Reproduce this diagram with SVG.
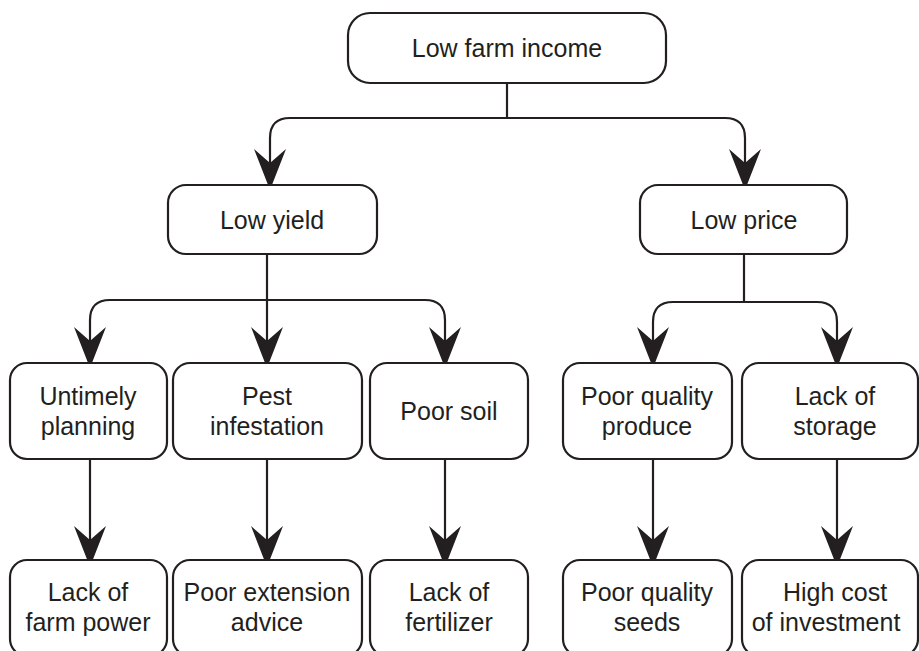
<svg xmlns="http://www.w3.org/2000/svg" width="919" height="651" viewBox="0 0 919 651">
  <style>
    .box { fill: #ffffff; stroke: #231f20; stroke-width: 2.2; }
    .lbl { font-family: "Liberation Sans", Arial, sans-serif; font-size: 25px; fill: #231f20; text-anchor: middle; }
    .link { fill: none; stroke: #231f20; stroke-width: 2.2; }
    .arrow { marker-end: url(#head); }
  </style>
  <defs>
    <marker id="head" markerUnits="userSpaceOnUse" markerWidth="44" markerHeight="36" refX="14" refY="17" orient="auto" overflow="visible">
      <path d="M0,1 L41,17 L0,33 L14,17 Z" fill="#231f20"/>
    </marker>
  </defs>
  <rect width="919" height="651" fill="#ffffff"/>

  <!-- connectors -->
  <g id="connectors">
    <path class="link" d="M507,83 V118"/>
    <path class="link arrow" d="M507,118 H290 Q270,118 270,138 V163"/>
    <path class="link arrow" d="M507,118 H725 Q745,118 745,138 V163"/>

    <path class="link" d="M267,254 V300"/>
    <path class="link arrow" d="M267,300 H110 Q90,300 90,320 V341"/>
    <path class="link arrow" d="M267,300 V341"/>
    <path class="link arrow" d="M267,300 H425 Q445,300 445,320 V341"/>

    <path class="link" d="M744,254 V302"/>
    <path class="link arrow" d="M744,302 H673 Q653,302 653,322 V341"/>
    <path class="link arrow" d="M744,302 H817 Q837,302 837,322 V341"/>

    <path class="link arrow" d="M90,459 V540"/>
    <path class="link arrow" d="M267,459 V540"/>
    <path class="link arrow" d="M445,459 V540"/>
    <path class="link arrow" d="M653,459 V540"/>
    <path class="link arrow" d="M837,459 V540"/>
  </g>

  <!-- level 0 -->
  <g id="low-farm-income">
    <rect class="box" x="348" y="13" width="318" height="70" rx="22"/>
    <text class="lbl" x="507" y="57">Low farm income</text>
  </g>

  <!-- level 1 -->
  <g id="low-yield">
    <rect class="box" x="168" y="185" width="209" height="69" rx="18"/>
    <text class="lbl" x="272" y="229">Low yield</text>
  </g>
  <g id="low-price">
    <rect class="box" x="640" y="185" width="207" height="69" rx="18"/>
    <text class="lbl" x="744" y="229">Low price</text>
  </g>

  <!-- level 2 -->
  <g id="untimely-planning">
    <rect class="box" x="10" y="363" width="157" height="96" rx="17"/>
    <text class="lbl" x="88" y="405">Untimely</text>
    <text class="lbl" x="88" y="435">planning</text>
  </g>
  <g id="pest-infestation">
    <rect class="box" x="173" y="363" width="189" height="96" rx="17"/>
    <text class="lbl" x="267" y="405">Pest</text>
    <text class="lbl" x="267" y="435">infestation</text>
  </g>
  <g id="poor-soil">
    <rect class="box" x="370" y="363" width="158" height="96" rx="17"/>
    <text class="lbl" x="449" y="420">Poor soil</text>
  </g>
  <g id="poor-quality-produce">
    <rect class="box" x="563" y="363" width="169" height="96" rx="17"/>
    <text class="lbl" x="647" y="405">Poor quality</text>
    <text class="lbl" x="647" y="435">produce</text>
  </g>
  <g id="lack-of-storage">
    <rect class="box" x="742" y="363" width="176" height="96" rx="17"/>
    <text class="lbl" x="835" y="405">Lack of</text>
    <text class="lbl" x="835" y="435">storage</text>
  </g>

  <!-- level 3 -->
  <g id="lack-of-farm-power">
    <rect class="box" x="10" y="560" width="157" height="96" rx="17"/>
    <text class="lbl" x="88" y="601">Lack of</text>
    <text class="lbl" x="88" y="631">farm power</text>
  </g>
  <g id="poor-extension-advice">
    <rect class="box" x="173" y="560" width="189" height="96" rx="17"/>
    <text class="lbl" x="267" y="601">Poor extension</text>
    <text class="lbl" x="267" y="631">advice</text>
  </g>
  <g id="lack-of-fertilizer">
    <rect class="box" x="370" y="560" width="158" height="96" rx="17"/>
    <text class="lbl" x="449" y="601">Lack of</text>
    <text class="lbl" x="449" y="631">fertilizer</text>
  </g>
  <g id="poor-quality-seeds">
    <rect class="box" x="563" y="560" width="169" height="96" rx="17"/>
    <text class="lbl" x="647" y="601">Poor quality</text>
    <text class="lbl" x="647" y="631">seeds</text>
  </g>
  <g id="high-cost-of-investment">
    <rect class="box" x="742" y="560" width="176" height="96" rx="17"/>
    <text class="lbl" x="835" y="601">High cost</text>
    <text class="lbl" x="826" y="631">of investment</text>
  </g>
</svg>
